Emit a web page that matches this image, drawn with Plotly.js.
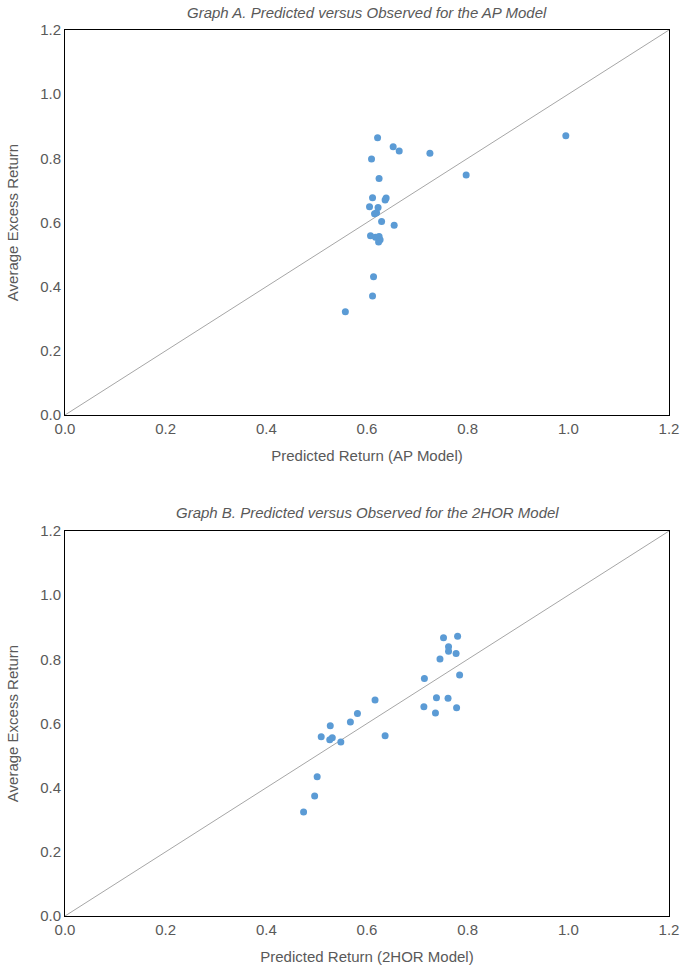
<!DOCTYPE html>
<html>
<head>
<meta charset="utf-8">
<script src="https://cdn.plot.ly/plotly-3.0.1.min.js"></script>
<style>html,body{margin:0;padding:0;background:#fff;}#chart{width:681px;height:972px;}</style>
</head>
<body>
<div id="chart"></div>
<script>
// Graph A: AP model
const apPredicted = [0.621,0.652,0.664,0.725,0.609,0.624,0.611,0.638,0.636,0.605,0.622,0.619,0.615,0.629,0.654,0.607,0.617,0.624,0.626,0.623,0.613,0.611,0.557,0.995,0.797];
const apObserved  = [0.864,0.836,0.823,0.816,0.798,0.737,0.677,0.676,0.670,0.649,0.647,0.630,0.627,0.603,0.591,0.559,0.554,0.556,0.546,0.539,0.431,0.371,0.322,0.870,0.748];
// Graph B: 2HOR model
const horPredicted = [0.752,0.780,0.762,0.762,0.777,0.745,0.784,0.714,0.616,0.738,0.761,0.713,0.778,0.736,0.581,0.567,0.527,0.509,0.636,0.531,0.526,0.548,0.501,0.496,0.474];
const horObserved  = [0.867,0.872,0.839,0.825,0.818,0.801,0.751,0.740,0.673,0.680,0.679,0.652,0.649,0.633,0.631,0.605,0.593,0.559,0.562,0.556,0.549,0.542,0.434,0.374,0.324];
// 45-degree reference line
const diagonal = [0, 1.2];
const tickVals = [0, 0.2, 0.4, 0.6, 0.8, 1.0, 1.2];
const tickText = ['0.0','0.2','0.4','0.6','0.8','1.0','1.2'];
const titleA = 'Graph A. Predicted versus Observed for the AP Model';
const titleB = 'Graph B. Predicted versus Observed for the 2HOR Model';

const fontFam = '"Liberation Sans", Arial, sans-serif';
const textCol = '#595959';
const markerStyle = {color:'#5b9bd5', size:7};
const lineStyle = {color:'#a6a6a6', width:1};

const traces = [
  {x: diagonal, y: diagonal, mode:'lines', line: lineStyle, xaxis:'x', yaxis:'y', hoverinfo:'skip'},
  {x: apPredicted, y: apObserved, mode:'markers', marker: markerStyle, xaxis:'x', yaxis:'y'},
  {x: diagonal, y: diagonal, mode:'lines', line: lineStyle, xaxis:'x2', yaxis:'y2', hoverinfo:'skip'},
  {x: horPredicted, y: horObserved, mode:'markers', marker: markerStyle, xaxis:'x2', yaxis:'y2'}
];

function axis(extra){
  return Object.assign({
    range:[0,1.2], tickvals: tickVals, ticktext: tickText,
    showgrid:false, zeroline:false, showline:true, mirror:true,
    linecolor:'#000', linewidth:1, ticks:'',
    tickfont:{family:fontFam, size:15, color:textCol}
  }, extra);
}

const layout = {
  width:681, height:972,
  margin:{l:65, r:12, t:30, b:56},
  paper_bgcolor:'#fff', plot_bgcolor:'#fff',
  showlegend:false,
  font:{family:fontFam, color:textCol},
  xaxis: axis({domain:[0,1], anchor:'y', title:{text:'Predicted Return (AP Model)', font:{family:fontFam,size:15,color:textCol}, standoff:14}}),
  yaxis: axis({domain:[0.5655,1], anchor:'x', title:{text:'Average Excess Return', font:{family:fontFam,size:15,color:textCol}, standoff:17}}),
  xaxis2: axis({domain:[0,1], anchor:'y2', title:{text:'Predicted Return (2HOR Model)', font:{family:fontFam,size:15,color:textCol}, standoff:14}}),
  yaxis2: axis({domain:[0,0.4345], anchor:'x2', title:{text:'Average Excess Return', font:{family:fontFam,size:15,color:textCol}, standoff:17}}),
  annotations:[
    {text:titleA, xref:'paper', yref:'paper', x:0.5, y:1, yshift:18, xanchor:'center', yanchor:'middle', showarrow:false,
     font:{family:fontFam, size:15, color:textCol, style:'italic'}},
    {text:titleB, xref:'paper', yref:'paper', x:0.5, y:0.4345, yshift:19, xanchor:'center', yanchor:'middle', showarrow:false,
     font:{family:fontFam, size:15, color:textCol, style:'italic'}}
  ]
};

Plotly.newPlot('chart', traces, layout, {displayModeBar:false, staticPlot:true});
</script>
</body>
</html>
